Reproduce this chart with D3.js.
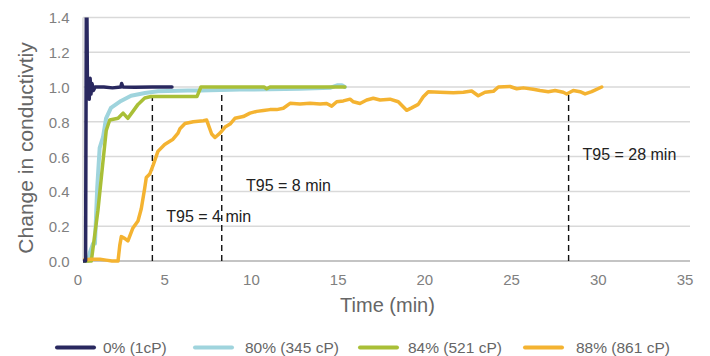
<!DOCTYPE html>
<html>
<head>
<meta charset="utf-8">
<script src="https://cdn.jsdelivr.net/npm/d3@7"></script>
<style>
  html, body { margin: 0; padding: 0; background: #fff; }
  svg { display: block; font-family: "Liberation Sans", Arial, Helvetica, sans-serif; }
</style>
</head>
<body>
<svg id="chart" width="710" height="356"></svg>
<script>
// Conductivity response over time for four glycerol concentrations
const timeTicks = [0, 5, 10, 15, 20, 25, 30, 35];
const valueTicks = [0, 0.2, 0.4, 0.6, 0.8, 1.0, 1.2, 1.4];

const seriesNames = ["0% (1cP)", "80% (345 cP)", "84% (521 cP)", "88% (861 cP)"];

// [time (min), change in conductivity]
const water = [
  [0, 0], [0.15, 0], [0.2, 1.8], [0.26, 0.95], [0.31, 1.03], [0.36, 0.93],
  [0.41, 1.05], [0.46, 0.96], [0.52, 1.02], [0.6, 0.98], [0.7, 1.0],
  [1.2, 1.0], [1.7, 0.995], [2.18, 1.0], [2.23, 1.02], [2.3, 1.0],
  [3.0, 0.998], [4.0, 1.0], [5.13, 1.0]
];

const glycerol80 = [
  [0, 0], [0.29, 0], [0.4, 0.05], [0.58, 0.1], [0.69, 0.1], [0.82, 0.42],
  [0.96, 0.65], [1.15, 0.71], [1.33, 0.82], [1.61, 0.88], [2.19, 0.92],
  [2.77, 0.95], [3.57, 0.965], [4.32, 0.975], [6.05, 0.98], [6.75, 0.98],
  [9.05, 0.985], [12.51, 0.99], [14.24, 0.995], [14.65, 1.01], [14.93, 1.01], [15.1, 1.0]
];

const glycerol84 = [
  [0, 0], [0.48, 0], [0.86, 0.29], [1.15, 0.57], [1.34, 0.75], [1.54, 0.81],
  [2.02, 0.82], [2.31, 0.85], [2.59, 0.82], [2.88, 0.86], [3.17, 0.9],
  [3.56, 0.937], [3.92, 0.945], [6.57, 0.945], [6.8, 1.0], [10.44, 1.0],
  [10.59, 0.99], [10.78, 1.0], [15.1, 1.0]
];

const glycerol88 = [
  [0, 0.005], [0.4, 0.01], [0.98, 0.01], [1.33, 0.005], [1.67, 0], [2.02, 0],
  [2.12, 0.09], [2.21, 0.14], [2.4, 0.13], [2.59, 0.115], [2.88, 0.19],
  [3.17, 0.23], [3.36, 0.3], [3.56, 0.42], [3.65, 0.48], [3.85, 0.5],
  [4.04, 0.55], [4.32, 0.63], [4.71, 0.67], [5.19, 0.7], [5.48, 0.735],
  [5.59, 0.76], [5.88, 0.79], [6.36, 0.8], [6.94, 0.806], [7.13, 0.81],
  [7.42, 0.73], [7.61, 0.71], [7.9, 0.735], [8.19, 0.77], [8.48, 0.787],
  [8.76, 0.82], [9.24, 0.83], [9.63, 0.85], [10.02, 0.86], [10.4, 0.865],
  [10.78, 0.87], [11.17, 0.87], [11.55, 0.878], [11.94, 0.906], [12.51, 0.902],
  [13.09, 0.906], [13.67, 0.902], [14.05, 0.905], [14.34, 0.89], [14.63, 0.915],
  [15.01, 0.92], [15.4, 0.93], [15.59, 0.915], [15.97, 0.905], [16.36, 0.925],
  [16.74, 0.935], [17.13, 0.925], [17.7, 0.93], [18.18, 0.915], [18.66, 0.866],
  [18.95, 0.88], [19.33, 0.9], [19.62, 0.944], [19.91, 0.973], [20.58, 0.97],
  [21.35, 0.967], [21.93, 0.97], [22.41, 0.977], [22.79, 0.95], [23.18, 0.97],
  [23.66, 0.975], [23.95, 1.0], [24.62, 1.003], [25.01, 0.99], [25.39, 0.995],
  [25.96, 0.987], [26.35, 0.98], [26.83, 0.973], [27.22, 0.98], [27.69, 0.97],
  [27.89, 0.96], [28.27, 0.98], [28.66, 0.973], [28.95, 0.96], [29.33, 0.973],
  [29.91, 1.0]
];

// T95 settling times (min) and where each marker line stops
const t95Times = [4, 8, 28];
const t95Top = 0.96;
// annotation anchors [time, value]
const t95LabelAnchors = [[4.8, 0.225], [9.4, 0.403], [28.8, 0.582]];

const seriesData = [water, glycerol80, glycerol84, glycerol88];
const seriesColors = ["#29285f", "#9fd4dd", "#a9bf37", "#f4b331"];

const svg = d3.select("#chart");
const plot = { left: 83, right: 690, top: 17.4, bottom: 261 };

const x = d3.scaleLinear().domain([0, 35]).range([plot.left, plot.right]);
const y = d3.scaleLinear().domain([0, 1.4]).range([plot.bottom, plot.top]);

// Horizontal gridlines
svg.append("g")
  .selectAll("line")
  .data(valueTicks.filter(v => v > 0))
  .join("line")
  .attr("x1", plot.left).attr("x2", plot.right)
  .attr("y1", d => y(d)).attr("y2", d => y(d))
  .attr("stroke", "#d9d9d9").attr("stroke-width", 1.5);

// Vertical axis line
svg.append("line")
  .attr("x1", plot.left).attr("x2", plot.left)
  .attr("y1", plot.top).attr("y2", plot.bottom)
  .attr("stroke", "#d9d9d9").attr("stroke-width", 1.5);

// Y axis labels
const yAxis = d3.axisLeft(y).tickValues(valueTicks).tickFormat(d3.format(".1f")).tickSize(0).tickPadding(13.5);
svg.append("g")
  .attr("transform", `translate(${plot.left},0)`)
  .call(yAxis)
  .call(g => g.select(".domain").remove())
  .call(g => g.selectAll("text")
    .attr("fill", "#808080").attr("font-size", 15).attr("dy", "0.36em"));

// X axis labels
const xAxis = d3.axisBottom(x).tickValues(timeTicks).tickFormat(d3.format("d")).tickSize(0).tickPadding(0);
svg.append("g")
  .attr("transform", `translate(0,${plot.bottom})`)
  .call(xAxis)
  .call(g => g.select(".domain").remove())
  .call(g => g.selectAll("text")
    .attr("fill", "#808080").attr("font-size", 15)
    .attr("dx", -5.5).attr("y", 24).attr("dy", 0));

// Baseline
svg.append("line")
  .attr("x1", plot.left).attr("x2", plot.right)
  .attr("y1", y(0)).attr("y2", y(0))
  .attr("stroke", "#c4c4c4").attr("stroke-width", 2);

// Axis titles
svg.append("text")
  .attr("x", (plot.left + plot.right) / 2 + 1).attr("y", 312)
  .attr("text-anchor", "middle")
  .attr("font-size", 20).attr("fill", "#666")
  .text("Time (min)");

svg.append("text")
  .attr("transform", "translate(33,148) rotate(-90)")
  .attr("text-anchor", "middle")
  .attr("font-size", 21).attr("fill", "#666")
  .text("Change in conductivtiy");

// T95 marker lines
svg.append("g")
  .selectAll("line")
  .data(t95Times)
  .join("line")
  .attr("x1", d => x(d)).attr("x2", d => x(d))
  .attr("y1", y(0)).attr("y2", y(t95Top))
  .attr("stroke", "#111").attr("stroke-width", 1.4)
  .attr("stroke-dasharray", "6,4");

svg.append("g")
  .selectAll("text")
  .data(t95Times)
  .join("text")
  .attr("x", (d, i) => x(t95LabelAnchors[i][0]))
  .attr("y", (d, i) => y(t95LabelAnchors[i][1]))
  .attr("font-size", 16).attr("fill", "#222")
  .text(d => `T95 = ${d} min`);

// Series lines, clipped to the plot area
svg.append("clipPath").attr("id", "plot-clip")
  .append("rect")
  .attr("x", plot.left).attr("y", plot.top)
  .attr("width", plot.right - plot.left).attr("height", plot.bottom - plot.top + 4);

const line = d3.line().x(d => x(d[0])).y(d => y(d[1])).curve(d3.curveLinear);

const drawOrder = [1, 2, 3, 0];
svg.append("g")
  .attr("clip-path", "url(#plot-clip)")
  .selectAll("path")
  .data(drawOrder)
  .join("path")
  .attr("d", i => line(seriesData[i]))
  .attr("fill", "none")
  .attr("stroke", i => seriesColors[i])
  .attr("stroke-width", i => (i === 1 ? 4 : 3.5))
  .attr("stroke-linejoin", "round")
  .attr("stroke-linecap", "round");

// Legend
const legendX = [57, 195, 360, 525];
const legend = svg.append("g");
const items = legend.selectAll("g")
  .data(seriesNames)
  .join("g")
  .attr("transform", (d, i) => `translate(${legendX[i]},347.5)`);
items.append("line")
  .attr("x1", 0).attr("x2", 37)
  .attr("stroke", (d, i) => seriesColors[i])
  .attr("stroke-width", 4).attr("stroke-linecap", "round");
items.append("text")
  .attr("x", (d, i) => (i === 0 ? 46 : i === 1 ? 50 : i === 2 ? 48 : 51))
  .attr("y", 5.5)
  .attr("font-size", 15.5).attr("fill", "#666")
  .text(d => d);
</script>
</body>
</html>
